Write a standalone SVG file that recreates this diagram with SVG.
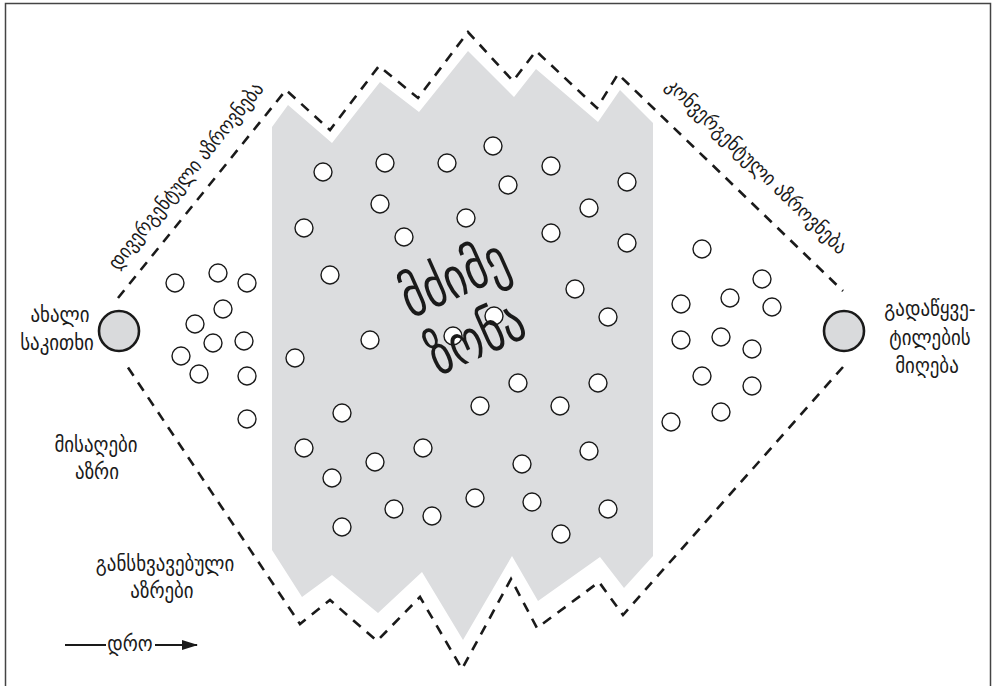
<svg xmlns="http://www.w3.org/2000/svg" width="995" height="686" viewBox="0 0 995 686">
<style>
.t{font-family:"DejaVu Sans Condensed","DejaVu Sans",sans-serif;fill:#1a1a1a;text-anchor:middle}
.lbl{font-size:21px}
.rot{font-size:20px}
.dash{fill:none;stroke:#1a1a1a;stroke-width:2.6;stroke-dasharray:10 8;stroke-linejoin:miter}
.sc{fill:#fff;stroke:#1a1a1a;stroke-width:1.4}
.big{fill:#d9dadc;stroke:#1a1a1a;stroke-width:2.6}
</style>
<defs>
<marker id="ah" viewBox="0 0 16 12" refX="15" refY="6" markerWidth="16" markerHeight="12" markerUnits="userSpaceOnUse" orient="auto"><path d="M0,1 L16,6 L0,11 Z" fill="#1a1a1a"/></marker>
</defs>
<rect x="0" y="0" width="995" height="686" fill="#fff"/>
<rect x="5.5" y="3.5" width="985" height="700" fill="none" stroke="#444" stroke-width="1.5"/>
<g id="hard-zone">
<polygon points="272,127 288,105 332,143 380,82 419,112 468,51 514,97 536,69 598,122 620,90 653,123 653,556 624,588 600,557 538,601 512,556 463,640 422,572 378,613 332,575 302,597 272,550" fill="#dcdddf"/>
</g>
<g id="connectors">
<polyline class="dash" points="118,298 286,90 330,130 379,66 418,98 468,32 513,81 536,51 597,108 618,74 843,291"/>
<polyline class="dash" points="843,367 623,615 599,582 537,628 511,579 462,669 420,597 377,641 330,600 300,624 125,363"/>
<line x1="65" y1="645" x2="106" y2="645" stroke="#1a1a1a" stroke-width="2"/>
<line x1="155" y1="645" x2="197" y2="645" stroke="#1a1a1a" stroke-width="2" marker-end="url(#ah)"/>
</g>
<g id="dots">
<circle class="sc" cx="175" cy="283" r="9"/><circle class="sc" cx="218" cy="273" r="9"/><circle class="sc" cx="247" cy="283" r="9"/>
<circle class="sc" cx="223" cy="309" r="9"/><circle class="sc" cx="195" cy="324" r="9"/><circle class="sc" cx="213" cy="343" r="9"/>
<circle class="sc" cx="244" cy="341" r="9"/><circle class="sc" cx="181" cy="356" r="9"/><circle class="sc" cx="199" cy="374" r="9"/>
<circle class="sc" cx="247" cy="376" r="9"/><circle class="sc" cx="247" cy="419" r="9"/><circle class="sc" cx="295" cy="358" r="9"/>
<circle class="sc" cx="304" cy="448" r="9"/>
<circle class="sc" cx="323" cy="172" r="9"/><circle class="sc" cx="385" cy="163" r="9"/><circle class="sc" cx="447" cy="163" r="9"/>
<circle class="sc" cx="493" cy="146" r="9"/><circle class="sc" cx="551" cy="166" r="9"/><circle class="sc" cx="508" cy="185" r="9"/>
<circle class="sc" cx="627" cy="182" r="9"/><circle class="sc" cx="380" cy="204" r="9"/><circle class="sc" cx="466" cy="218" r="9"/>
<circle class="sc" cx="589" cy="208" r="9"/><circle class="sc" cx="304" cy="228" r="9"/><circle class="sc" cx="404" cy="237" r="9"/>
<circle class="sc" cx="551" cy="233" r="9"/><circle class="sc" cx="627" cy="243" r="9"/><circle class="sc" cx="330" cy="275" r="9"/>
<circle class="sc" cx="575" cy="289" r="9"/><circle class="sc" cx="608" cy="317" r="9"/><circle class="sc" cx="494" cy="316" r="9"/>
<circle class="sc" cx="453" cy="336" r="9"/><circle class="sc" cx="370" cy="340" r="9"/><circle class="sc" cx="518" cy="383" r="9"/>
<circle class="sc" cx="598" cy="383" r="9"/><circle class="sc" cx="480" cy="406" r="9"/><circle class="sc" cx="560" cy="406" r="9"/>
<circle class="sc" cx="342" cy="413" r="9"/>
<circle class="sc" cx="375" cy="462" r="9"/><circle class="sc" cx="423" cy="448" r="9"/><circle class="sc" cx="332" cy="478" r="9"/>
<circle class="sc" cx="475" cy="498" r="9"/><circle class="sc" cx="394" cy="509" r="9"/><circle class="sc" cx="432" cy="516" r="9"/>
<circle class="sc" cx="342" cy="527" r="9"/>
<circle class="sc" cx="522" cy="464" r="9"/><circle class="sc" cx="589" cy="451" r="9"/><circle class="sc" cx="532" cy="502" r="9"/>
<circle class="sc" cx="608" cy="509" r="9"/><circle class="sc" cx="561" cy="534" r="9"/>
<circle class="sc" cx="702" cy="249" r="9"/><circle class="sc" cx="762" cy="279" r="9"/><circle class="sc" cx="681" cy="304" r="9"/>
<circle class="sc" cx="730" cy="298" r="9"/><circle class="sc" cx="772" cy="307" r="9"/><circle class="sc" cx="681" cy="340" r="9"/>
<circle class="sc" cx="721" cy="337" r="9"/><circle class="sc" cx="752" cy="349" r="9"/><circle class="sc" cx="702" cy="376" r="9"/>
<circle class="sc" cx="752" cy="386" r="9"/><circle class="sc" cx="721" cy="412" r="9"/><circle class="sc" cx="671" cy="422" r="9"/>
</g>
<g id="zone-label">
<text class="t" font-size="48" transform="translate(462,296) rotate(-24) scale(1,1.2)">მძიმე</text>
<text class="t" font-size="48" transform="translate(484,356) rotate(-24) scale(1,1.2)">ზონა</text>
</g>
<g id="new-issue">
<circle class="big" cx="119" cy="331" r="20"/>
<text class="t lbl" x="60" y="322">ახალი</text>
<text class="t lbl" x="57" y="350">საკითხი</text>
</g>
<g id="decision">
<circle class="big" cx="844" cy="331" r="20"/>
<text class="t lbl" x="930" y="316">გადაწყვე-</text>
<text class="t lbl" x="930" y="345">ტილების</text>
<text class="t lbl" x="927" y="373">მიღება</text>
</g>
<g id="divergent">
<text class="t rot" transform="translate(191,180) rotate(-51)">დივერგენტული აზროვნება</text>
</g>
<g id="convergent">
<text class="t rot" transform="translate(752,171) rotate(44)">კონვერგენტული აზროვნება</text>
</g>
<g id="acceptable">
<text class="t lbl" x="96" y="452">მისაღები</text>
<text class="t lbl" x="97" y="479">აზრი</text>
</g>
<g id="different">
<text class="t lbl" x="165" y="571">განსხვავებული</text>
<text class="t lbl" x="162" y="598">აზრები</text>
</g>
<g id="time">
<text class="t lbl" x="130" y="651">დრო</text>
</g>
</svg>
